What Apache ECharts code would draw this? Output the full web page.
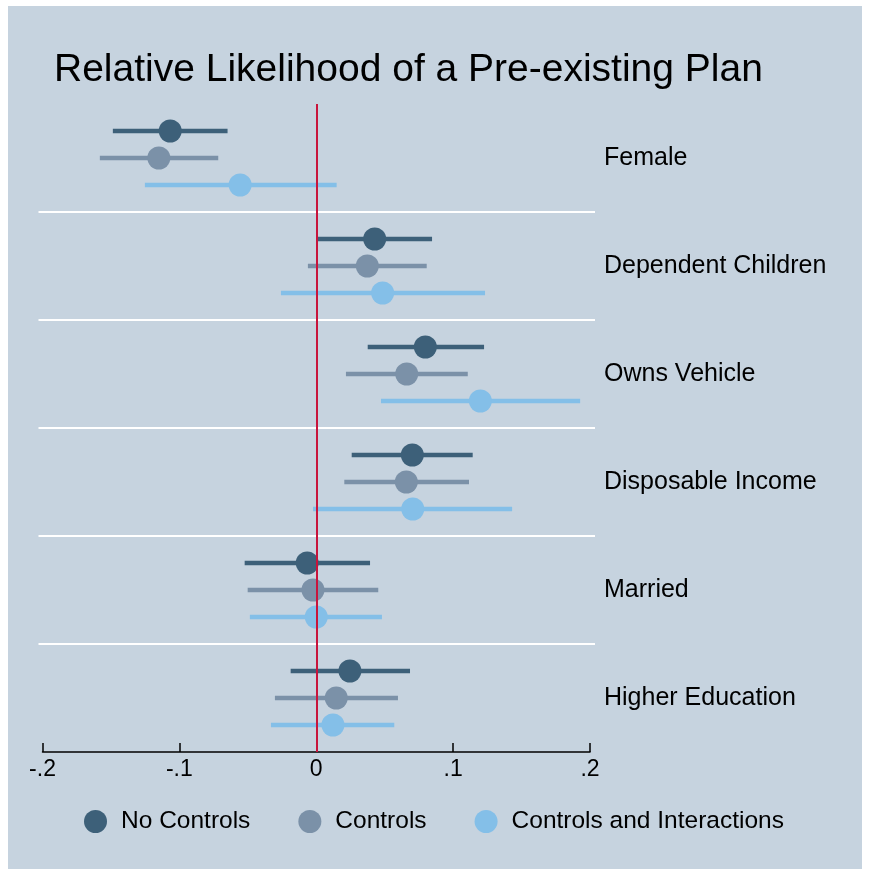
<!DOCTYPE html>
<html>
<head>
<meta charset="utf-8">
<script src="https://cdn.jsdelivr.net/npm/echarts@6/dist/echarts.min.js"></script>
<style>
  html, body { margin: 0; padding: 0; background: #ffffff; }
  #chart { width: 870px; height: 873px; }
</style>
</head>
<body>
<div id="chart"></div>
<script>
// categories, top to bottom
var categories = ["Female", "Dependent Children", "Owns Vehicle", "Disposable Income", "Married", "Higher Education"];
var seriesNames = ["No Controls", "Controls", "Controls and Interactions"];

// point estimates
var noControls = [-0.1067, 0.0427, 0.0797, 0.0702, -0.0066, 0.0246];
var controls = [-0.1150, 0.0373, 0.0661, 0.0658, -0.0024, 0.0146];
var interactions = [-0.0556, 0.0485, 0.1199, 0.0705, 0.0000, 0.0122];

// confidence interval bounds
var noControlsLo = [-0.1486, 0.0010, 0.0376, 0.0259, -0.0523, -0.0187];
var noControlsHi = [-0.0648, 0.0846, 0.1226, 0.1143, 0.0393, 0.0685];
var controlsLo = [-0.1581, -0.0061, 0.0217, 0.0205, -0.0501, -0.0302];
var controlsHi = [-0.0716, 0.0807, 0.1107, 0.1116, 0.0453, 0.0597];
var interactionsLo = [-0.1252, -0.0258, 0.0473, -0.0024, -0.0485, -0.0331];
var interactionsHi = [0.0149, 0.1233, 0.1928, 0.1431, 0.0480, 0.0570];

var xTicks = [-0.2, -0.1, 0, 0.1, 0.2];

var colors = ["#3d6079", "#7b91a8", "#84bfe8"];
var offsets = [-0.25, 0, 0.25];
var font = "'Liberation Sans', Arial, Helvetica, sans-serif";

var chart = echarts.init(document.getElementById("chart"));

var estimates = [noControls, controls, interactions];
var lows = [noControlsLo, controlsLo, interactionsLo];
var highs = [noControlsHi, controlsHi, interactionsHi];

var series = [];

// white separators between groups
var sepData = [];
for (var g = 1; g < categories.length; g++) sepData.push([g + 0.5]);
series.push({
  type: "custom",
  name: "sep",
  silent: true,
  clip: false,
  z: 1,
  data: sepData,
  encode: { y: 0 },
  renderItem: function (params, api) {
    var y = api.value(0);
    var a = api.coord([xTicks[0], y]);
    var b = api.coord([xTicks[xTicks.length - 1], y]);
    return {
      type: "line",
      shape: { x1: a[0] - 4, y1: a[1], x2: b[0] + 5, y2: b[1] },
      style: { stroke: "#ffffff", lineWidth: 2 }
    };
  }
});

estimates.forEach(function (est, s) {
  var barData = est.map(function (v, i) {
    return [lows[s][i], highs[s][i], i + 1 + offsets[s]];
  });
  series.push({
    type: "custom",
    name: seriesNames[s] + " CI",
    silent: true,
    z: 3,
    data: barData,
    encode: { x: [0, 1], y: 2 },
    renderItem: function (params, api) {
      var a = api.coord([api.value(0), api.value(2)]);
      var b = api.coord([api.value(1), api.value(2)]);
      return {
        type: "line",
        shape: { x1: a[0], y1: a[1], x2: b[0], y2: b[1] },
        style: { stroke: colors[s], lineWidth: 4.5 }
      };
    }
  });
  series.push({
    type: "scatter",
    name: seriesNames[s],
    z: 4,
    symbol: "circle",
    symbolSize: 23,
    itemStyle: { color: colors[s], opacity: 1 },
    data: est.map(function (v, i) { return [v, i + 1 + offsets[s]]; })
  });
});

// vertical reference line at zero
series[0].markLine = {
  silent: true,
  symbol: "none",
  label: { show: false },
  lineStyle: { color: "#c8143c", width: 2, type: "solid" },
  data: [{ xAxis: 0 }]
};

var option = {
  animation: false,
  backgroundColor: "#ffffff",
  graphic: [{
    type: "rect",
    z: -10,
    shape: { x: 8, y: 6, width: 854, height: 863 },
    style: { fill: "#c6d3df" }
  }],
  title: {
    text: "Relative Likelihood of a Pre-existing Plan",
    left: 49,
    top: 46,
    textStyle: { fontFamily: font, fontSize: 39, fontWeight: "normal", color: "#000000" }
  },
  grid: { left: 42.5, right: 280, top: 104, bottom: 121 },
  xAxis: {
    type: "value",
    min: xTicks[0],
    max: xTicks[xTicks.length - 1],
    interval: 0.1,
    axisLine: { show: true, onZero: false, lineStyle: { color: "#000000", width: 1.5 } },
    axisTick: { show: true, inside: true, length: 9, lineStyle: { color: "#000000", width: 1.5 } },
    axisLabel: {
      margin: 6,
      fontFamily: font,
      fontSize: 23,
      color: "#000000",
      formatter: function (v) {
        if (Math.abs(v) < 1e-9) return "0";
        var d = Math.round(Math.abs(v) * 10);
        return (v < 0 ? "-" : "") + "." + d;
      }
    },
    splitLine: { show: false }
  },
  yAxis: [{
    type: "value",
    min: 0.5,
    max: 6.5,
    inverse: true,
    show: false
  }, {
    type: "category",
    data: categories,
    position: "right",
    inverse: true,
    boundaryGap: true,
    axisLine: { show: false },
    axisTick: { show: false },
    splitLine: { show: false },
    axisLabel: { margin: 14, fontFamily: font, fontSize: 25, color: "#000000" }
  }],
  legend: {
    left: 84,
    top: 809,
    padding: 0,
    itemWidth: 23,
    itemHeight: 23,
    itemGap: 48,
    icon: "circle",
    textStyle: { fontFamily: font, fontSize: 24.5, color: "#000000", padding: [0, 0, 0, 9] },
    data: seriesNames.map(function (n, s) { return { name: n, itemStyle: { color: colors[s] } }; })
  },
  series: series
};

chart.setOption(option);
</script>
</body>
</html>
